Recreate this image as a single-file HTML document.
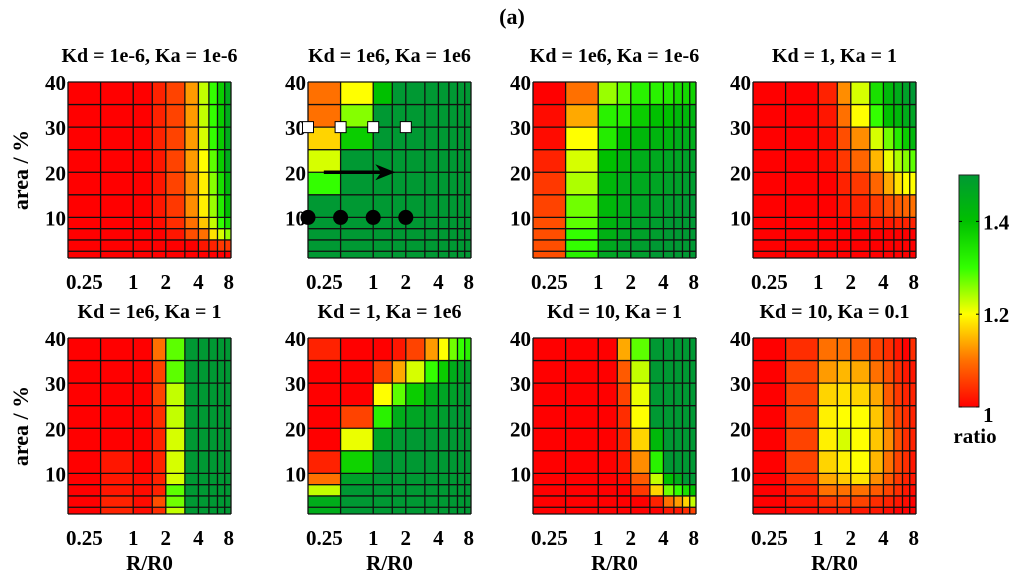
<!DOCTYPE html>
<html><head><meta charset="utf-8"><style>
body{margin:0;background:#fff}
svg{display:block}
text{font-family:"Liberation Serif","DejaVu Serif",serif;font-weight:bold;fill:#000}
</style></head><body>
<svg id="fig" width="1024" height="578" viewBox="0 0 1024 578" xmlns="http://www.w3.org/2000/svg">
<defs>
<linearGradient id="cb" x1="0" y1="1" x2="0" y2="0">
<stop offset="0" stop-color="#ff0000"/><stop offset="0.2" stop-color="#ff7000"/><stop offset="0.4" stop-color="#ffff00"/><stop offset="0.6" stop-color="#33ff00"/><stop offset="0.8" stop-color="#00c000"/><stop offset="1" stop-color="#009933"/>
</linearGradient>
</defs>
<text x="512" y="24" text-anchor="middle" font-size="22">(a)</text>
</svg>
<script>
const xEdges=[0.25,0.5,1,1.5,2,3,4,5,6,7,8];
const yEdges=[40,35,30,25,20,15,10,7.5,5,2.5,1];
const xTicks=[0.25,1,2,4,8];
const xTickLabels=["0.25","1","2","4","8"];
const yTicks=[40,30,20,10];
const titles=["Kd = 1e-6, Ka = 1e-6","Kd = 1e6, Ka = 1e6","Kd = 1e6, Ka = 1e-6","Kd = 1, Ka = 1","Kd = 1e6, Ka = 1","Kd = 1, Ka = 1e6","Kd = 10, Ka = 1","Kd = 10, Ka  = 0.1"];
const cbTicks=[1,1.2,1.4];
const squaresX=[0.25,0.5,1,2];const squaresY=30;
const circlesX=[0.25,0.5,1,2];const circlesY=10;
const arrowFrom=[0.35,20],arrowTo=[1.6,20];
const G=1.5;
const p1=[[1,1,1,1.03,1.06,1.13,1.23,1.3,1.38,1.45],[1,1,1,1.03,1.06,1.13,1.23,1.3,1.38,1.45],[1,1,1,1.03,1.06,1.13,1.22,1.3,1.38,1.45],[1,1,1,1.02,1.06,1.13,1.2,1.28,1.38,1.45],[1,1,1,1.02,1.06,1.12,1.19,1.26,1.35,1.42],[1,1,1,1.02,1.05,1.12,1.19,1.25,1.33,1.4],[1,1,1,1.01,1.04,1.1,1.16,1.23,1.3,1.35],[1,1,1,1,1.02,1.07,1.1,1.18,1.22,1.25],[1,1,1,1,1,1,1.02,1.03,1.05,1.05],[1,1,1,1,1,1,1,1,1,1]];
const p2=[[1.1,1.2,1.4,G,G,G,G,G,G,G],[1.1,1.26,G,G,G,G,G,G,G,G],[1.17,1.38,G,G,G,G,G,G,G,G],[1.22,G,G,G,G,G,G,G,G,G],[1.3,G,G,G,G,G,G,G,G,G],[G,G,G,G,G,G,G,G,G,G],[G,G,G,G,G,G,G,G,G,G],[G,G,G,G,G,G,G,G,G,G],[G,G,G,G,G,G,G,G,G,G],[G,G,G,G,G,G,G,G,G,G]];
const p3=[[1.0,1.1,1.25,1.28,1.32,1.32,1.33,1.35,1.36,1.37],[1.01,1.14,1.32,1.33,1.38,1.4,1.4,1.42,1.42,1.43],[1.01,1.2,1.33,1.4,1.42,1.43,1.43,1.45,1.45,1.45],[1.03,1.22,1.4,1.43,1.45,1.46,1.47,1.47,1.48,1.48],[1.05,1.24,1.42,1.45,1.46,1.47,1.48,1.48,1.49,1.49],[1.06,1.27,1.42,1.45,1.47,1.48,1.49,1.49,1.5,1.5],[1.07,1.28,1.43,1.46,1.48,1.49,1.5,1.5,1.5,1.5],[1.07,1.3,1.44,1.47,1.48,1.49,1.5,1.5,1.5,1.5],[1.07,1.3,1.46,1.48,1.49,1.5,1.5,1.5,1.5,1.5],[1.07,1.32,1.47,1.48,1.49,1.5,1.5,1.5,1.5,1.5]];
const p4=[[1,1,1.03,1.12,1.22,1.35,1.42,1.45,1.48,1.5],[1,1,1.02,1.1,1.2,1.3,1.4,1.42,1.45,1.47],[1,1,1.01,1.07,1.12,1.22,1.27,1.33,1.38,1.42],[1,1,1.01,1.05,1.09,1.15,1.21,1.24,1.26,1.28],[1,1,1,1.03,1.05,1.09,1.14,1.18,1.2,1.2],[1,1,1,1.02,1.03,1.05,1.07,1.08,1.09,1.1],[1,1,1,1,1.01,1.02,1.02,1.03,1.03,1.03],[1,1,1,1,1,1,1,1,1,1],[1,1,1,1,1,1,1,1,1,1],[1,1,1,1,1,1,1,1,1,1]];
const p5=[[1,1,1,1.1,1.28,G,G,G,G,G],[1,1,1,1.06,1.28,G,G,G,G,G],[1,1,1,1.06,1.23,G,G,G,G,G],[1,1,1,1.04,1.23,G,G,G,G,G],[1,1,1,1.03,1.22,G,G,G,G,G],[1,1.02,1,1.03,1.22,G,G,G,G,G],[1,1.02,1.01,1.03,1.22,G,G,G,G,G],[1,1.02,1.01,1.03,1.28,G,G,G,G,G],[1,1.03,1.01,1.07,1.27,G,G,G,G,G],[1,1.03,1.01,1.04,1.23,G,G,G,G,G]];
const p6=[[1.03,1,1,1.02,1.06,1.13,1.2,1.27,1.3,1.32],[1,1,1.06,1.14,1.22,1.3,1.38,1.45,1.47,1.48],[1,1,1.2,1.28,1.38,1.45,1.47,1.48,1.49,1.5],[1,1.06,1.32,1.45,1.47,1.48,1.49,1.5,1.5,1.5],[1,1.21,1.47,G,G,G,G,G,G,G],[1.03,1.37,G,G,G,G,G,G,G,G],[1.1,1.48,G,G,G,G,G,G,G,G],[1.23,G,G,G,G,G,G,G,G,G],[1.45,G,G,G,G,G,G,G,G,G],[1.45,G,G,G,G,G,G,G,G,G]];
const p7=[[1,1,1,1.14,1.28,G,G,G,G,G],[1,1,1,1.08,1.23,G,G,G,G,G],[1,1,1,1.06,1.21,G,G,G,G,G],[1,1,1,1.04,1.2,G,G,G,G,G],[1,1,1,1.03,1.17,1.42,G,G,G,G],[1,1,1,1.02,1.12,1.32,G,G,G,G],[1,1,1,1.01,1.08,1.23,1.4,1.45,G,G],[1,1,1,1,1.05,1.17,1.27,1.3,1.35,1.4],[1,1,1,1,1,1.03,1.1,1.13,1.17,1.23],[1,1,1,1,1,1,1.02,1.02,1.04,1.06]];
const p8=[[1,1.04,1.1,1.1,1.08,1.06,1.04,1.02,1.0,1.04],[1,1.06,1.13,1.15,1.14,1.1,1.07,1.04,1.02,1.02],[1,1.06,1.17,1.18,1.17,1.14,1.08,1.05,1.03,1.03],[1,1.06,1.19,1.2,1.2,1.16,1.1,1.06,1.04,1.03],[1,1.06,1.19,1.22,1.2,1.16,1.12,1.07,1.04,1.03],[1,1.06,1.17,1.19,1.2,1.15,1.1,1.06,1.04,1.02],[1,1.05,1.14,1.16,1.18,1.12,1.08,1.05,1.03,1.02],[1,1.03,1.1,1.1,1.1,1.08,1.06,1.04,1.02,1.01],[1,1.02,1.05,1.06,1.06,1.04,1.03,1.02,1.01,1.0],[1,1.01,1.02,1.03,1.02,1.02,1.01,1.0,1.0,1.0]];
const panels=[p1,p2,p3,p4,p5,p6,p7,p8];

const NS="http://www.w3.org/2000/svg";
const svg=document.getElementById('fig');
const PX=[68,308,533,753],PY=[82,338],PW=163,PH=176;
const stops=[[1.0,[255,0,0]],[1.1,[255,112,0]],[1.2,[255,255,0]],[1.3,[51,255,0]],[1.4,[0,192,0]],[1.5,[0,153,51]]];
function cmap(v){v=Math.max(1,Math.min(1.5,v));for(let i=0;i<stops.length-1;i++){const[a,ca]=stops[i],[b,cb]=stops[i+1];if(v<=b){const t=(v-a)/(b-a);return 'rgb('+ca.map((c,k)=>Math.round(c+(cb[k]-c)*t)).join(',')+')';}}return 'rgb(0,153,51)';}
function mk(tag,attrs,parent){const e=document.createElementNS(NS,tag);for(const k in attrs)e.setAttribute(k,attrs[k]);(parent||svg).appendChild(e);return e;}
function lg(v){return Math.log2(v);}
panels.forEach((data,pi)=>{
  const x0=PX[pi%4],y0=PY[Math.floor(pi/4)];
  const sx=v=>x0+(lg(v)-lg(0.25))/(lg(8)-lg(0.25))*PW;
  const sy=v=>y0+(40-v)/(40-1)*PH;
  const g=mk('g',{});
  
  
  data.forEach((row,r)=>row.forEach((val,c)=>{
    const xa=sx(xEdges[c]),xb=sx(xEdges[c+1]),ya=sy(yEdges[r]),yb=sy(yEdges[r+1]);
    const cell=mk('rect',{x:xa,y:ya,width:xb-xa,height:yb-ya,fill:cmap(val)},g);
    
    
  }));
  xEdges.forEach(v=>mk('line',{x1:sx(v),x2:sx(v),y1:sy(40),y2:sy(1),stroke:'#111','stroke-width':1.3},g));
  yEdges.forEach(v=>mk('line',{x1:sx(0.25),x2:sx(8),y1:sy(v),y2:sy(v),stroke:'#111','stroke-width':1.3},g));
  const t=mk('text',{x:x0+PW/2,y:y0-20,'text-anchor':'middle','font-size':20});
  t.textContent=titles[pi];
  
  
  xTicks.forEach((v,i)=>{
    let x=sx(v);const anchor=i==0?'start':(i==xTicks.length-1?'end':'middle');
    if(i==0)x=x0-2;
    const tx=mk('text',{x:x+(i==xTicks.length-1?3:0),y:y0+PH+31,'text-anchor':anchor,'font-size':21});
    tx.textContent=xTickLabels[i];
    
    
  });
  yTicks.forEach(v=>{
    const ty=mk('text',{x:x0-2,y:sy(v)+8,'text-anchor':'end','font-size':21});
    ty.textContent=String(v);
    
    
  });
  if(pi>=4){
    const xl=mk('text',{x:x0+PW/2,y:y0+PH+56,'text-anchor':'middle','font-size':21});
    xl.textContent='R/R0';
    
    
  }
  if(pi%4==0){
    const yl=mk('text',{x:0,y:0,'text-anchor':'middle','font-size':22,transform:'translate(28,'+(y0+PH/2)+') rotate(-90)'});
    yl.textContent='area / %';
    
    
  }
  if(pi==1){
    squaresX.forEach(v=>{
      const s=mk('rect',{x:sx(v)-5.5,y:sy(squaresY)-5.5,width:11,height:11,fill:'#fff',stroke:'#000','stroke-width':1});
      
      
    });
    circlesX.forEach(v=>{
      const c=mk('circle',{cx:sx(v),cy:sy(circlesY),r:7.5,fill:'#000'});
      
      
    });
    const ax1=sx(arrowFrom[0]),ax2=sx(arrowTo[0]),ay=sy(arrowFrom[1]);
    const ar=mk('g',{});
    
    
    mk('line',{x1:ax1,y1:ay,x2:ax2-12,y2:ay,stroke:'#000','stroke-width':3.5},ar);
    mk('polygon',{points:(ax2)+','+ay+' '+(ax2-20)+','+(ay-8)+' '+(ax2-14)+','+ay+' '+(ax2-20)+','+(ay+8),fill:'#000'},ar);
  }
});
const CBX=959,CBW=20,CBT=175,CBB=407;
const cy=v=>CBB-(v-1)/(1.5-1)*(CBB-CBT);
const cbg=mk('g',{});


mk('rect',{x:CBX,y:CBT,width:CBW,height:CBB-CBT,fill:'url(#cb)',stroke:'#222','stroke-width':1},cbg);
cbTicks.forEach(v=>{
  mk('line',{x1:CBX,x2:CBX+3,y1:cy(v),y2:cy(v),stroke:'#000'},cbg);
  mk('line',{x1:CBX+CBW-3,x2:CBX+CBW,y1:cy(v),y2:cy(v),stroke:'#000'},cbg);
  const t=mk('text',{x:CBX+CBW+4,y:cy(v)+(v==1?15:8),'font-size':21},cbg);
  t.textContent=String(v);
  
  
});
const rt=mk('text',{x:975,y:443,'text-anchor':'middle','font-size':21},cbg);
rt.textContent='ratio';


</script>
</body></html>
